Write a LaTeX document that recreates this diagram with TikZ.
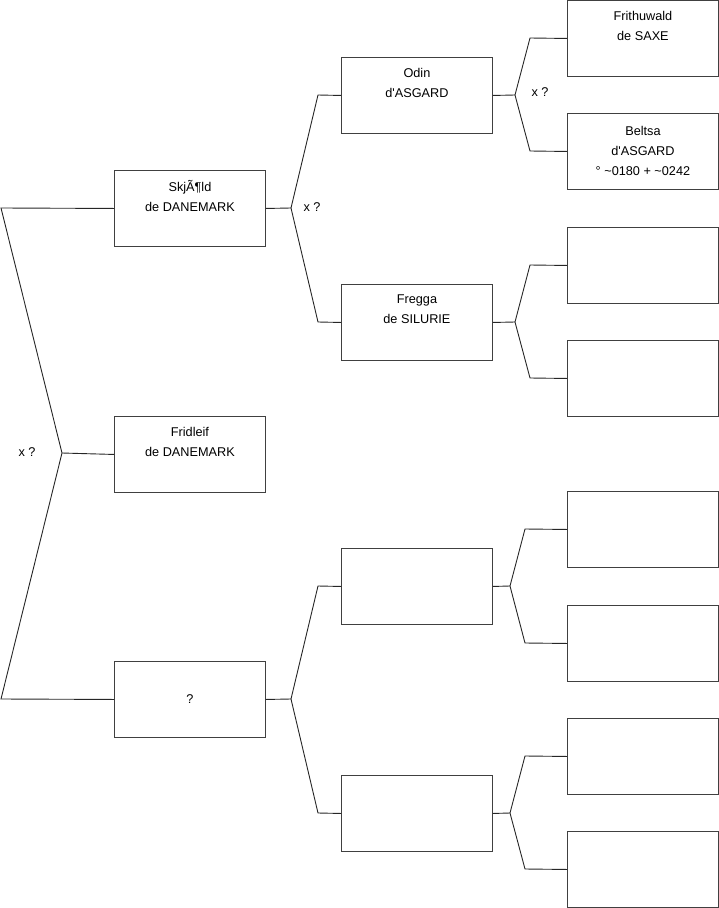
\documentclass[tikz,border=0pt]{standalone}
\usepackage{fontspec}
\setmainfont{Liberation Sans}
\begin{document}
\begin{tikzpicture}[x=1pt,y=-1pt,
 box/.style={draw=black!75, line width=0.9pt, minimum width=151pt, minimum height=76pt, inner sep=0pt, anchor=north west, align=center, font=\fontsize{12.7}{20}\selectfont},
 link/.style={draw=black!85, line width=0.9pt},
 lbl/.style={font=\fontsize{12.7}{14}\selectfont, inner sep=0pt}]
\useasboundingbox (0,0) rectangle (719,908);
% column 1
\node[box] (a) at (114,170) {SkjÃ¶ld\\de DANEMARK\\\strut};
\node[box] (b) at (114,416) {Fridleif\\de DANEMARK\\\strut};
\node[box] (c) at (114,661) {?};
% column 2
\node[box] (d) at (341,57) {Odin\\d\textquotesingle ASGARD\\\strut};
\node[box] (e) at (341,284) {Fregga\\de SILURIE\\\strut};
\node[box] (f) at (341,548) {};
\node[box] (g) at (341,775) {};
% column 3
\node[box] (h1) at (567,0) {Frithuwald\\de SAXE\\\strut};
\node[box] (h2) at (567,113) {Beltsa\\d\textquotesingle ASGARD\\° \textasciitilde 0180 + \textasciitilde 0242};
\node[box] (h3) at (567,227) {};
\node[box] (h4) at (567,340) {};
\node[box] (h5) at (567,491) {};
\node[box] (h6) at (567,605) {};
\node[box] (h7) at (567,718) {};
\node[box] (h8) at (567,831) {};
% root fork
\coordinate (r1) at (1,208);
\coordinate (r2) at (62,453);
\coordinate (r3) at (1,699);
\draw[link] (a.west) -- (r1) -- (r2) -- (r3) -- (c.west);
\draw[link] (r2) -- (b.west);
\node[lbl] (x1) at (27,452) {x ?};
% fork a
\coordinate (fa) at (291,208);
\coordinate (fa1) at (318,95);
\coordinate (fa2) at (318,322);
\draw[link] (a.east) -- (fa) -- (fa1) -- (d.west);
\draw[link] (fa) -- (fa2) -- (e.west);
\node[lbl] (x2) at (312,207) {x ?};
% fork c
\coordinate (fc) at (291,699);
\coordinate (fc1) at (318,586);
\coordinate (fc2) at (318,813);
\draw[link] (c.east) -- (fc) -- (fc1) -- (f.west);
\draw[link] (fc) -- (fc2) -- (g.west);
% fork d
\coordinate (fd) at (515,95);
\coordinate (fd1) at (530,38);
\coordinate (fd2) at (530,151);
\draw[link] (d.east) -- (fd) -- (fd1) -- (h1.west);
\draw[link] (fd) -- (fd2) -- (h2.west);
\node[lbl] (x3) at (540,92) {x ?};
% fork e
\coordinate (fe) at (515,322);
\coordinate (fe1) at (530,265);
\coordinate (fe2) at (530,378);
\draw[link] (e.east) -- (fe) -- (fe1) -- (h3.west);
\draw[link] (fe) -- (fe2) -- (h4.west);
% fork f
\coordinate (ff) at (510,586);
\coordinate (ff1) at (525,529);
\coordinate (ff2) at (525,643);
\draw[link] (f.east) -- (ff) -- (ff1) -- (h5.west);
\draw[link] (ff) -- (ff2) -- (h6.west);
% fork g
\coordinate (fg) at (510,813);
\coordinate (fg1) at (525,756);
\coordinate (fg2) at (525,869);
\draw[link] (g.east) -- (fg) -- (fg1) -- (h7.west);
\draw[link] (fg) -- (fg2) -- (h8.west);
\end{tikzpicture}
\end{document}
